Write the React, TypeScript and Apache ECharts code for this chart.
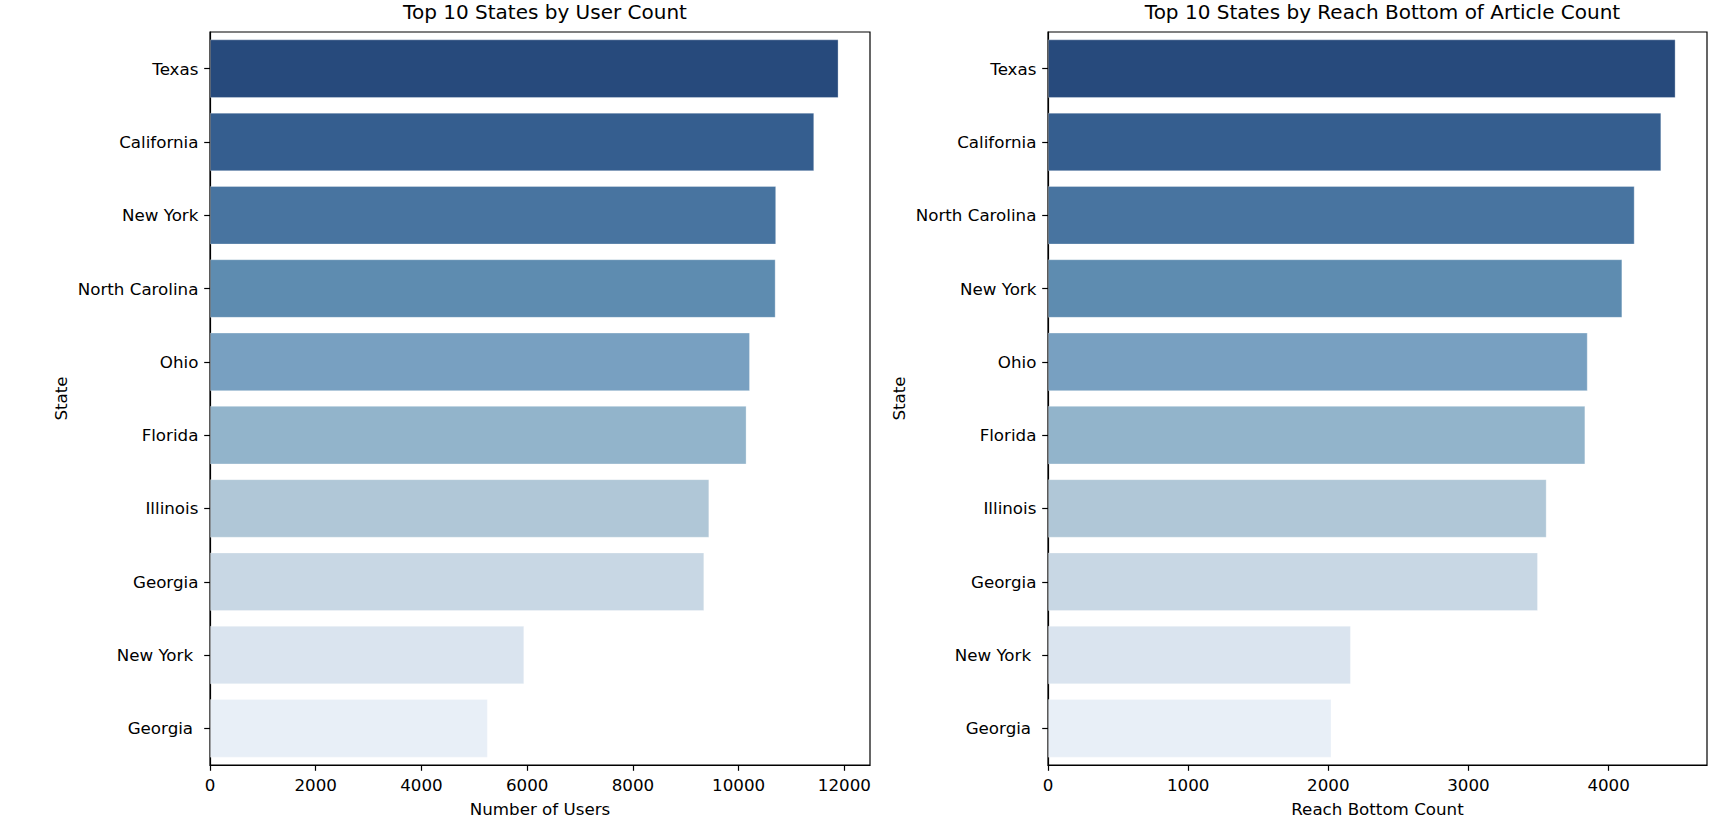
import React, { useEffect, useRef } from "react";
import * as echarts from "echarts";

const userStates = ["Texas", "California", "New York", "North Carolina", "Ohio", "Florida", "Illinois", "Georgia", "New York ", "Georgia "];
const userCounts = [11890, 11430, 10710, 10700, 10215, 10150, 9445, 9350, 5945, 5255];

const reachStates = ["Texas", "California", "North Carolina", "New York", "Ohio", "Florida", "Illinois", "Georgia", "New York ", "Georgia "];
const reachCounts = [4478, 4376, 4186, 4098, 3851, 3834, 3558, 3496, 2161, 2023];

const userTicks = [0, 2000, 4000, 6000, 8000, 10000, 12000];
const reachTicks = [0, 1000, 2000, 3000, 4000];

const palette = ["#274a7c", "#355e8f", "#4874a0", "#5e8cb0", "#78a0c1", "#92b4cb", "#b0c7d7", "#c8d7e4", "#dae4ef", "#e8eff7"];

const FONT = "DejaVu Sans";
const TICK_FS = 16.7;

export default function App() {
  const ref = useRef<HTMLDivElement>(null);

  useEffect(() => {
    if (!ref.current) return;
    const chart = echarts.init(ref.current, undefined, { renderer: "svg" });

    const gridL = { left: 210, top: 32, width: 660, height: 733 };
    const gridR = { left: 1048, top: 32, width: 659, height: 733 };

    const xAxisBase = (gridIndex: number, max: number, ticks: number[], name: string) => ({
      type: "value",
      gridIndex,
      min: 0,
      max,
      name,
      nameLocation: "middle",
      nameGap: 35,
      nameTextStyle: { fontFamily: FONT, fontSize: TICK_FS, color: "#000" },
      splitLine: { show: false },
      axisLine: { show: true, lineStyle: { color: "#000", width: 1.2 } },
      axisTick: { show: true, length: 5.8, lineStyle: { color: "#000", width: 1.2 }, customValues: ticks },
      axisLabel: {
        fontFamily: FONT,
        fontSize: TICK_FS,
        color: "#000",
        margin: 11,
        customValues: ticks,
        formatter: (v: number) => String(v),
      },
    });

    const yAxisBase = (gridIndex: number, data: string[]) => ({
      type: "category",
      gridIndex,
      data,
      inverse: true,
      name: "State",
      nameLocation: "middle",
      nameGap: 141,
      nameTextStyle: { fontFamily: FONT, fontSize: TICK_FS, color: "#000" },
      axisLine: { show: true, lineStyle: { color: "#000", width: 1.2 } },
      axisTick: { show: true, length: 5.8, alignWithLabel: true, lineStyle: { color: "#000", width: 1.2 } },
      axisLabel: { fontFamily: FONT, fontSize: TICK_FS, color: "#000", margin: 11.6, interval: 0 },
      splitLine: { show: false },
    });

    const barData = (vals: number[]) =>
      vals.map((v, i) => ({
        value: v,
        itemStyle: { color: palette[i], borderColor: "rgba(255,255,255,0.3)", borderWidth: 1 },
      }));

    chart.setOption({
      animation: false,
      backgroundColor: "#fff",
      title: [
        {
          text: "Top 10 States by User Count",
          left: 540,
          top: -3,
          textAlign: "center",
          textStyle: { fontFamily: FONT, fontSize: 20, fontWeight: "normal", color: "#000" },
        },
        {
          text: "Top 10 States by Reach Bottom of Article Count",
          left: 1377.5,
          top: -3,
          textAlign: "center",
          textStyle: { fontFamily: FONT, fontSize: 20, fontWeight: "normal", color: "#000" },
        },
      ],
      grid: [
        { ...gridL, show: true, borderColor: "#000", borderWidth: 1.2, backgroundColor: "transparent", containLabel: false },
        { ...gridR, show: true, borderColor: "#000", borderWidth: 1.2, backgroundColor: "transparent", containLabel: false },
      ],
      xAxis: [
        xAxisBase(0, Math.max(...userCounts) * 1.05, userTicks, "Number of Users"),
        xAxisBase(1, Math.max(...reachCounts) * 1.05, reachTicks, "Reach Bottom Count"),
      ],
      yAxis: [yAxisBase(0, userStates), yAxisBase(1, reachStates)],
      series: [
        { type: "bar", xAxisIndex: 0, yAxisIndex: 0, data: barData(userCounts), barCategoryGap: "20%" },
        { type: "bar", xAxisIndex: 1, yAxisIndex: 1, data: barData(reachCounts), barCategoryGap: "20%" },
      ],
    });

    return () => chart.dispose();
  }, []);

  return (
    <div
      ref={ref}
      style={{ position: "fixed", left: 0, top: 0, width: 1728, height: 830, background: "#fff" }}
    />
  );
}
